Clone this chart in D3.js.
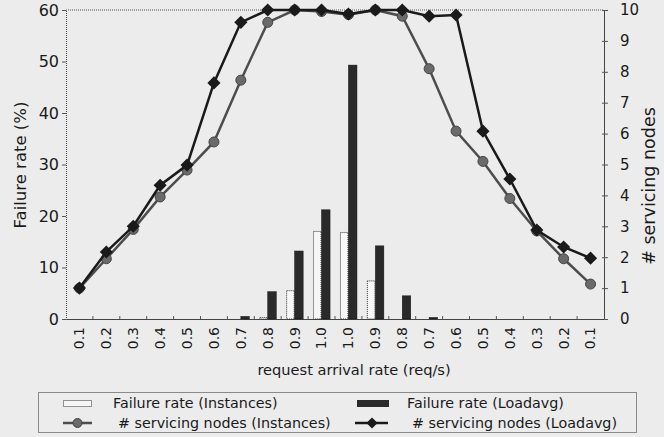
<!DOCTYPE html>
<html><head><meta charset="utf-8">
<script src="https://cdn.jsdelivr.net/npm/d3@7"></script>
<style>
html,body{margin:0;padding:0;background:#ececec;}
text{font-family:"DejaVu Sans",Verdana,sans-serif;fill:#1a1a1a;}
</style></head>
<body>
<svg id="chart" width="664" height="437"></svg>
<script>
const categories = ["0.1","0.2","0.3","0.4","0.5","0.6","0.7","0.8","0.9","1.0","1.0","0.9","0.8","0.7","0.6","0.5","0.4","0.3","0.2","0.1"];
const failInstances = [0,0,0,0,0,0,0,0.3,5.5,17,16.8,7.4,0,0,0,0,0,0,0,0];
const failLoadavg   = [0,0,0,0,0,0,0.5,5.3,13.2,21.2,49.3,14.2,4.5,0.3,0,0,0,0,0,0];
const nodesInstances = [1,1.95,2.9,3.95,4.82,5.73,7.73,9.6,10,9.95,9.85,10,9.8,8.1,6.08,5.1,3.9,2.85,1.95,1.13];
const nodesLoadavg   = [1,2.17,3.0,4.33,4.98,7.64,9.6,10,10,10,9.87,10,10,9.8,9.84,6.08,4.53,2.88,2.33,1.97];
const leftTicks = [0,10,20,30,40,50,60];
const rightTicks = [0,1,2,3,4,5,6,7,8,9,10];

const svg = d3.select("#chart");
const L = 66, R = 604, T = 10, B = 319;
const idx = d3.range(categories.length);
const x = d3.scaleBand().domain(idx).range([L, R]).padding(0);
const bw = x.bandwidth();
const cx = i => x(i) + bw / 2;
const xs = d3.scaleBand().domain(["inst","load"]).range([bw/2 - 8.5, bw/2 + 8.5]).padding(0);
const yL = d3.scaleLinear().domain([0,60]).range([B, T]);
const yR = d3.scaleLinear().domain([0,10]).range([B, T]);

// top dotted border
svg.append("line").attr("x1", L).attr("x2", R).attr("y1", T).attr("y2", T)
  .attr("stroke", "#555").attr("stroke-width", 1).attr("stroke-dasharray", "1,1");

// left axis
const gl = svg.append("g").attr("transform", `translate(${L},0)`)
  .call(d3.axisLeft(yL).tickValues(leftTicks).tickSize(4).tickPadding(3));
gl.select(".domain").attr("stroke", "#444").attr("stroke-dasharray", "1,1");
gl.selectAll(".tick line").attr("stroke", "#555");
gl.selectAll(".tick text").attr("font-size", 16).attr("font-family", "DejaVu Sans").attr("fill", "#1a1a1a");

// right axis
const gr = svg.append("g").attr("transform", `translate(${R},0)`)
  .call(d3.axisRight(yR).tickValues(rightTicks).tickSize(4).tickPadding(12));
gr.select(".domain").attr("stroke", "#444");
gr.selectAll(".tick line").attr("stroke", "#555").attr("x1", -2);
gr.selectAll(".tick text").attr("font-size", 15).attr("font-family", "DejaVu Sans").attr("fill", "#1a1a1a");

// bottom axis
const gb = svg.append("g").attr("transform", `translate(0,${B})`)
  .call(d3.axisBottom(x).tickFormat(i => categories[i]).tickSize(0).tickPadding(0));
gb.select(".domain").attr("stroke", "#444");
gb.selectAll(".tick text")
  .attr("font-size", 14).attr("font-family", "DejaVu Sans").attr("fill", "#1a1a1a")
  .attr("transform", "rotate(-90)")
  .attr("text-anchor", "end").attr("dy", "0.35em").attr("x", -8).attr("y", 0);
// inner ticks at band boundaries
svg.append("g").selectAll("line").data(idx.slice(1)).join("line")
  .attr("x1", i => x(i)).attr("x2", i => x(i)).attr("y1", B).attr("y2", B - 3)
  .attr("stroke", "#555");

// bars
svg.append("g").selectAll("rect").data(idx).join("rect")
  .attr("x", i => x(i) + xs("inst") + 0.5).attr("width", xs.bandwidth() - 1)
  .attr("y", i => yL(failInstances[i])).attr("height", i => B - yL(failInstances[i]))
  .attr("fill", "#f7f7f7").attr("stroke", "#333").attr("stroke-width", 1).attr("stroke-dasharray", "1,1")
  .style("display", i => failInstances[i] > 0 ? null : "none");
svg.append("g").selectAll("rect").data(idx).join("rect")
  .attr("x", i => x(i) + xs("load")).attr("width", xs.bandwidth())
  .attr("y", i => yL(failLoadavg[i])).attr("height", i => B - yL(failLoadavg[i]))
  .attr("fill", "#2a2a2a").attr("stroke", "#111").attr("stroke-width", 0.5)
  .style("display", i => failLoadavg[i] > 0 ? null : "none");

// lines
const lineI = d3.line().x(i => cx(i)).y(i => yR(nodesInstances[i]));
const lineL = d3.line().x(i => cx(i)).y(i => yR(nodesLoadavg[i]));
svg.append("path").attr("d", lineI(idx)).attr("fill", "none").attr("stroke", "#4d4d4d").attr("stroke-width", 2.5);
svg.append("g").selectAll("circle").data(idx).join("circle")
  .attr("cx", i => cx(i)).attr("cy", i => yR(nodesInstances[i])).attr("r", 5)
  .attr("fill", "#6a6a6a").attr("stroke", "#444").attr("stroke-width", 1);
svg.append("path").attr("d", lineL(idx)).attr("fill", "none").attr("stroke", "#1a1a1a").attr("stroke-width", 2.5);
const diamond = d3.symbol().type(d3.symbolDiamond2).size(110);
svg.append("g").selectAll("path").data(idx).join("path")
  .attr("d", diamond).attr("transform", i => `translate(${cx(i)},${yR(nodesLoadavg[i])})`)
  .attr("fill", "#1a1a1a");

// axis titles
svg.append("text").attr("transform", "translate(26,165) rotate(-90)")
  .attr("text-anchor", "middle").attr("font-size", 16.5).text("Failure rate (%)");
svg.append("text").attr("transform", "translate(655,186) rotate(-90)")
  .attr("text-anchor", "middle").attr("font-size", 17.5).text("# servicing nodes");
svg.append("text").attr("x", 354).attr("y", 375)
  .attr("text-anchor", "middle").attr("font-size", 14.6).text("request arrival rate (req/s)");

// legend
const lg = svg.append("g");
lg.append("rect").attr("x", 38.5).attr("y", 392.5).attr("width", 598).attr("height", 40)
  .attr("fill", "none").attr("stroke", "#8a8a8a");
lg.append("rect").attr("x", 63.5).attr("y", 400.5).attr("width", 28).attr("height", 6)
  .attr("fill", "#f7f7f7").attr("stroke", "#333").attr("stroke-dasharray", "1,1");
lg.append("text").attr("x", 113).attr("y", 408).attr("font-size", 14.3).text("Failure rate (Instances)");
lg.append("line").attr("x1", 63).attr("x2", 92).attr("y1", 423).attr("y2", 423).attr("stroke", "#4d4d4d").attr("stroke-width", 2.5);
lg.append("circle").attr("cx", 77.5).attr("cy", 423).attr("r", 4.5).attr("fill", "#6a6a6a").attr("stroke", "#444");
lg.append("text").attr("x", 118).attr("y", 428).attr("font-size", 14.3).text("# servicing nodes (Instances)");
lg.append("rect").attr("x", 357).attr("y", 400).attr("width", 32).attr("height", 7).attr("fill", "#2a2a2a");
lg.append("text").attr("x", 407).attr("y", 408).attr("font-size", 14.3).text("Failure rate (Loadavg)");
lg.append("line").attr("x1", 355).attr("x2", 388).attr("y1", 423).attr("y2", 423).attr("stroke", "#1a1a1a").attr("stroke-width", 2.5);
lg.append("path").attr("d", d3.symbol().type(d3.symbolDiamond2).size(80)).attr("transform", "translate(372,423)").attr("fill", "#1a1a1a");
lg.append("text").attr("x", 412).attr("y", 428).attr("font-size", 14.3).text("# servicing nodes (Loadavg)");
</script>
</body></html>
